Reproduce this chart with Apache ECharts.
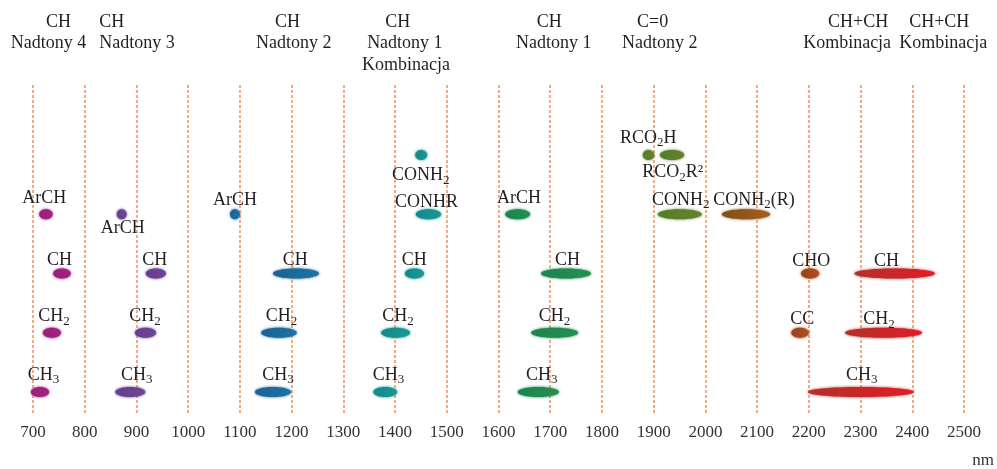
<!DOCTYPE html>
<html><head><meta charset="utf-8">
<script src="https://cdn.jsdelivr.net/npm/echarts@6/dist/echarts.min.js"></script>
<style>html,body{margin:0;padding:0;background:#fff}#c{width:997px;height:469px}</style>
</head><body><div id="c"></div>
<script>
// x axis (nm)
const xMin = 700, xMax = 2500, xStep = 100;
// rows: 1 = CH3, 2 = CH2, 3 = CH, 4 = ArCH / CONH..., 5 = upper row
// ellipses: [startNm, endNm, row]
const magenta = [[712,738,4],[739,773,3],[719,754,2],[696,731,1]];
const purple  = [[862,881,4],[918,957,3],[897,938,2],[859,917,1]];
const blue    = [[1081,1100,4],[1164,1253,3],[1141,1210,2],[1129,1199,1]];
const teal    = [[1439,1462,5],[1440,1489,4],[1419,1456,3],[1373,1429,2],[1358,1404,1]];
const green   = [[1613,1661,4],[1682,1779,3],[1663,1754,2],[1637,1717,1]];
const olive   = [[1879,1901,5],[1912,1959,5],[1908,1993,4]];
const brown   = [[2032,2125,4]];
const rust    = [[2185,2220,3],[2166,2200,2]];
const red     = [[2288,2444,3],[2270,2419,2],[2198,2403,1]];

// labels: [text, leftNm, row]
const bandLabels = [
  ['ArCH',679,4.27],['CH',727,3.22],['CH{s|2}',710,2.27],['CH{s|3}',690,1.29],
  ['ArCH',831,3.76],['CH',911,3.22],['CH{s|2}',886,2.27],['CH{s|3}',870,1.29],
  ['ArCH',1048,4.24],['CH',1183,3.22],['CH{s|2}',1150,2.27],['CH{s|3}',1143,1.29],
  ['CONH{s|2}',1394,4.66],['CONHR',1400,4.21],['CH',1413,3.22],['CH{s|2}',1375,2.27],['CH{s|3}',1357,1.29],
  ['ArCH',1597,4.27],['CH',1709,3.22],['CH{s|2}',1678,2.27],['CH{s|3}',1653,1.29],
  ['RCO{s|2}H',1835,5.29],['RCO{s|2}R²',1878,4.70],['CONH{s|2}',1897,4.24],['CONH{s|2}(R)',2015,4.24],
  ['CHO',2168,3.2],['CC',2164,2.22],
  ['CH',2326,3.2],['CH{s|2}',2305,2.22],['CH{s|3}',2272,1.29]
];

// region headers: [text, leftNm, row]
const headers = [
  ['CH',725,7.245],['Nadtony 4',657,6.89],
  ['CH',828,7.245],['Nadtony 3',828,6.89],
  ['CH',1168,7.245],['Nadtony 2',1131,6.89],
  ['CH',1381,7.245],['Nadtony 1',1346,6.89],['Kombinacja',1336,6.52],
  ['CH',1674,7.245],['Nadtony 1',1634,6.89],
  ['C=0',1868,7.245],['Nadtony 2',1839,6.89],
  ['CH+CH',2237,7.245],['Kombinacja',2189,6.89],
  ['CH+CH',2394,7.245],['Kombinacja',2375,6.89]
];

const groups = [
  {d: magenta, c: ['#9a1e7a','#a0237f']},
  {d: purple,  c: ['#643f8e','#6e4596']},
  {d: blue,    c: ['#1a6296','#1d72a2']},
  {d: teal,    c: ['#128a8a','#199893']},
  {d: green,   c: ['#1c8450','#24904e']},
  {d: olive,   c: ['#4f7f2a','#6a7f2c']},
  {d: brown,   c: ['#7f5017','#a85c1e']},
  {d: rust,    c: ['#9c4018','#b0501e']},
  {d: red,     c: ['#b2302a','#e31c26']}
];

const ellipseData = [];
groups.forEach((g, gi) => g.d.forEach(e => ellipseData.push([e[0], e[1], e[2], gi])));

const FONT = '"Liberation Serif","DejaVu Serif",serif';
const TEXT = '#231f20';

function textItems(arr) { return arr.map(a => [a[1], a[2]]); }

const chart = echarts.init(document.getElementById('c'), null, {renderer: 'canvas'});
chart.setOption({
  animation: false,
  grid: {left: 33, right: 33, top: 85, bottom: 56},
  xAxis: {
    type: 'value', min: xMin, max: xMax, interval: xStep,
    axisLine: {show: false}, axisTick: {show: false},
    axisLabel: {fontFamily: FONT, fontSize: 17, color: '#333', margin: 11,
      formatter: function (v) { return String(v); }},
    splitLine: {show: true, showMinLine: true, showMaxLine: true,
      lineStyle: {color: '#f5a173', width: 1.8, type: [3, 2]}}
  },
  yAxis: {type: 'value', min: 0.646, max: 6.181, show: false},
  graphic: [{type: 'text', right: 3, top: 452,
    style: {text: 'nm', font: '17px ' + FONT, fill: '#333'}}],
  series: [
    {
      type: 'custom', clip: false, data: ellipseData,
      renderItem: function (params, api) {
        const p0 = api.coord([api.value(0), api.value(2)]);
        const p1 = api.coord([api.value(1), api.value(2)]);
        const g = groups[api.value(3)];
        const rx = (p1[0] - p0[0]) / 2;
        return {
          type: 'ellipse',
          shape: {cx: (p0[0] + p1[0]) / 2, cy: p0[1], rx: rx, ry: 5},
          style: {
            fill: new echarts.graphic.LinearGradient(0, 0, 1, 0, [
              {offset: 0, color: g.c[0]}, {offset: 1, color: g.c[1]}]),
            shadowBlur: 3, shadowColor: g.c[0]
          }
        };
      }
    },
    {
      type: 'custom', clip: false, data: textItems(bandLabels),
      renderItem: function (params, api) {
        const p = api.coord([api.value(0), api.value(1)]);
        return {
          type: 'text',
          style: {
            x: p[0], y: p[1], text: bandLabels[params.dataIndex][0],
            fill: TEXT, font: '18px ' + FONT, align: 'left', verticalAlign: 'middle',
            rich: {s: {fontSize: 13, fontFamily: FONT, fill: TEXT, color: TEXT, padding: [10, 0, 0, 0]}}
          }
        };
      }
    },
    {
      type: 'custom', clip: false, data: textItems(headers),
      renderItem: function (params, api) {
        const p = api.coord([api.value(0), api.value(1)]);
        return {
          type: 'text',
          style: {
            x: p[0], y: p[1], text: headers[params.dataIndex][0],
            fill: TEXT, font: '18px ' + FONT, align: 'left', verticalAlign: 'middle'
          }
        };
      }
    }
  ]
});
</script></body></html>
